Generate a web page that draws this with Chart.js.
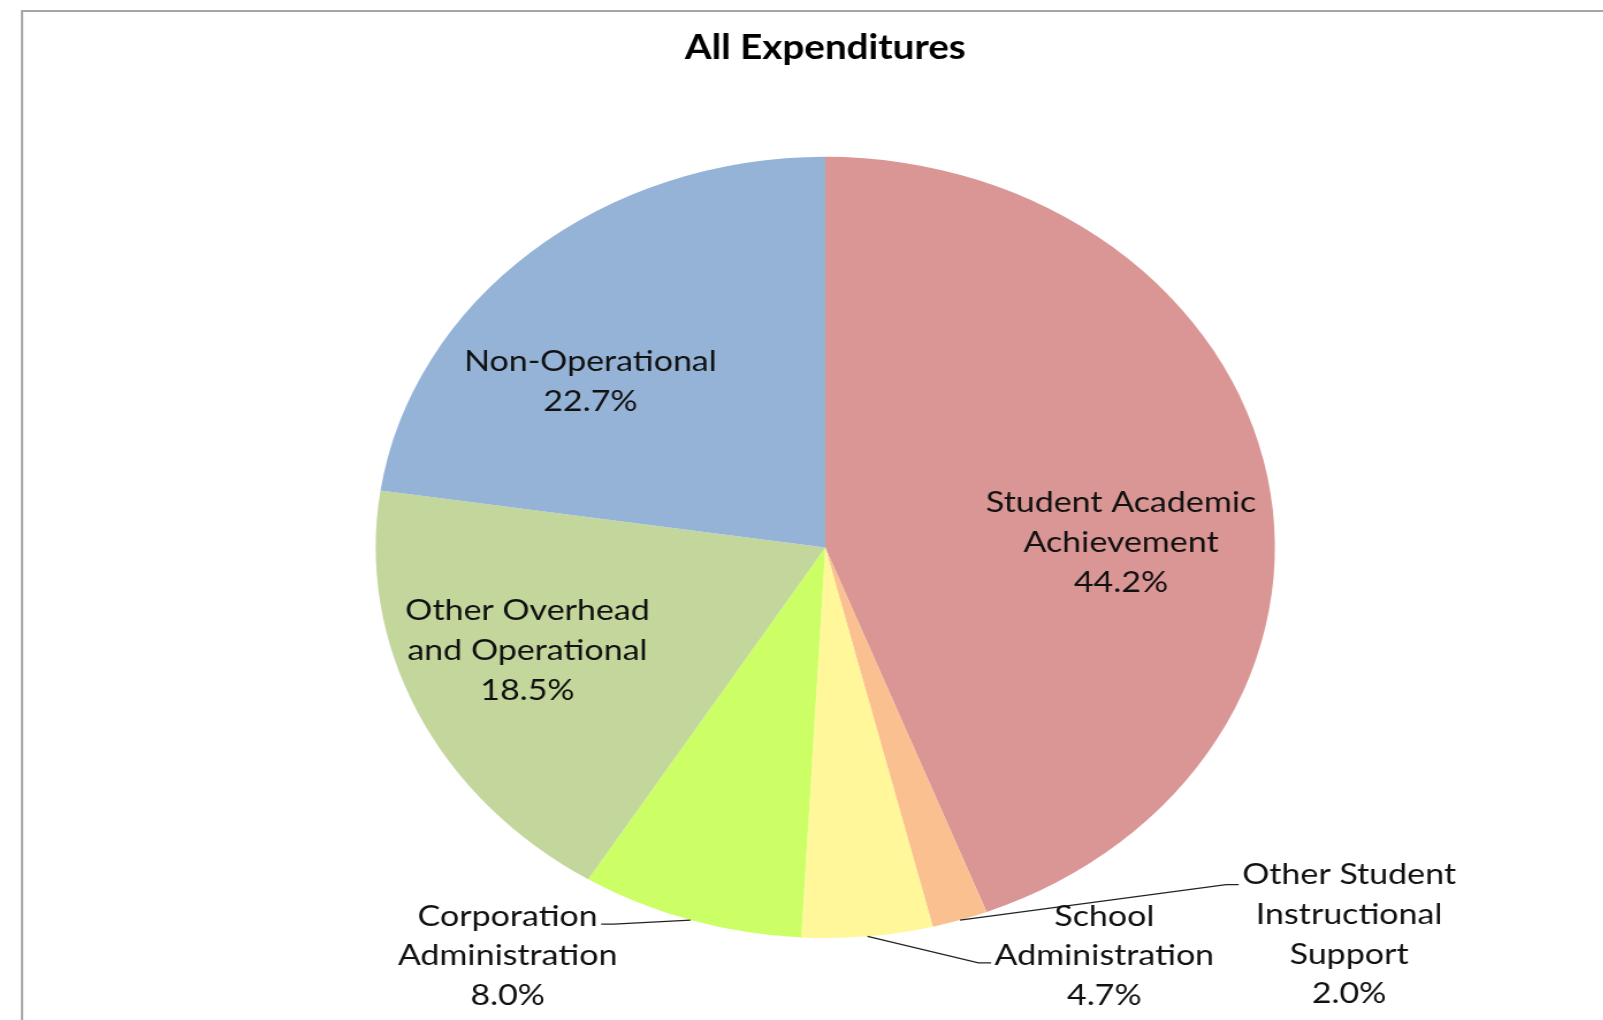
<!DOCTYPE html>
<html>
<head>
<meta charset="utf-8">
<script src="https://cdn.jsdelivr.net/npm/chart.js@4.4.1/dist/chart.umd.min.js"></script>
<style>
  html, body { margin: 0; padding: 0; background: #fff; overflow: hidden; }
  /* the original picture is stretched sideways, so the whole chart is too */
  #wrap { width: 1393px; height: 1020px; transform: scaleX(1.151); transform-origin: 0 0; }
</style>
</head>
<body>
<div id="wrap"><canvas id="pieChart" width="1393" height="1020"></canvas></div>
<script>
// data
const categories = [
    'Student Academic Achievement',
    'Other Student Instructional Support',
    'School Administration',
    'Corporation Administration',
    'Other Overhead and Operational',
    'Non-Operational'
];
const shares = [44.2, 2.0, 4.7, 8.0, 18.5, 22.7];
const labelLines = [
    ['Student Academic', 'Achievement'],
    ['Other Student', 'Instructional', 'Support'],
    ['School', 'Administration'],
    ['Corporation', 'Administration'],
    ['Other Overhead', 'and Operational'],
    ['Non-Operational']
];
const sliceColors = ['#D99694', '#FAC090', '#FFF799', '#CCFF66', '#C3D69B', '#95B3D7'];

// where each label sits: degrees away from the slice middle, fraction of the radius
const labelSpots = [
    { shift: 9.4, frac: 0.658 },
    { shift: -32.2, frac: 1.529 },
    { shift: -25.3, frac: 1.216 },
    { shift: 16.6, frac: 1.262 },
    { shift: 3.2, frac: 0.713 },
    { shift: -10.1, frac: 0.673 }
];
// leader lines for the labels outside the pie
const leaders = [
    null,
    { side: 'left', line: 0, dy: 10 },
    { side: 'left', line: 1, dy: 7 },
    { side: 'right', line: 0, dy: 8 },
    null,
    null
];

const LABEL_FONT = '29.5px Lato';
const LINE_H = 39.7;

const framePlugin = {
    id: 'frame',
    beforeDraw(chart) {
        const ctx = chart.ctx;
        ctx.save();
        ctx.strokeStyle = '#A6A6A6';
        ctx.lineWidth = 2;
        ctx.beginPath();
        ctx.moveTo(22 / 1.151, 1030);
        ctx.lineTo(22 / 1.151, 11);
        ctx.lineTo(chart.width + 10, 11);
        ctx.stroke();
        ctx.restore();
    }
};

const labelPlugin = {
    id: 'sliceLabels',
    afterDatasetsDraw(chart) {
        const ctx = chart.ctx;
        const meta = chart.getDatasetMeta(0);
        ctx.save();
        ctx.font = LABEL_FONT;
        ctx.fillStyle = '#111';
        ctx.textAlign = 'center';
        ctx.textBaseline = 'middle';
        meta.data.forEach(function(arc, i) {
            const p = arc.getProps(['x', 'y', 'startAngle', 'endAngle', 'outerRadius'], true);
            const mid = (p.startAngle + p.endAngle) / 2;
            const a = mid + labelSpots[i].shift * Math.PI / 180;
            const cx = p.x + Math.cos(a) * p.outerRadius * labelSpots[i].frac;
            const cy = p.y + Math.sin(a) * p.outerRadius * labelSpots[i].frac;
            const lines = labelLines[i].concat([shares[i].toFixed(1) + '%']);
            const top = cy - (lines.length - 1) * LINE_H / 2;
            lines.forEach(function(t, k) {
                ctx.fillText(t, cx, top + k * LINE_H);
            });

            const ld = leaders[i];
            if (ld) {
                const w = ctx.measureText(lines[ld.line]).width;
                const ly = top + ld.line * LINE_H + ld.dy;
                const dir = ld.side === 'left' ? -1 : 1;
                const edgeX = cx + dir * w / 2;
                ctx.beginPath();
                ctx.strokeStyle = '#222';
                ctx.lineWidth = 1.3;
                ctx.moveTo(p.x + Math.cos(mid) * p.outerRadius, p.y + Math.sin(mid) * p.outerRadius);
                ctx.lineTo(edgeX + dir * 14, ly);
                ctx.lineTo(edgeX + dir * 3, ly);
                ctx.stroke();
            }
        });
        ctx.restore();
    }
};

new Chart(document.getElementById('pieChart'), {
    type: 'pie',
    data: {
        labels: categories,
        datasets: [{
            data: shares,
            backgroundColor: sliceColors,
            borderWidth: 0,
            hoverOffset: 0
        }]
    },
    options: {
        responsive: false,
        animation: false,
        layout: {
            padding: { top: 10, bottom: 82, left: 326, right: 285 }
        },
        plugins: {
            legend: { display: false },
            tooltip: { enabled: false },
            title: {
                display: true,
                text: 'All Expenditures',
                color: '#000',
                font: { family: 'Lato', size: 33.5, weight: 'bold', lineHeight: 1.2 },
                padding: { top: 18, bottom: 88.6 }
            }
        }
    },
    plugins: [framePlugin, labelPlugin]
});
</script>
</body>
</html>
